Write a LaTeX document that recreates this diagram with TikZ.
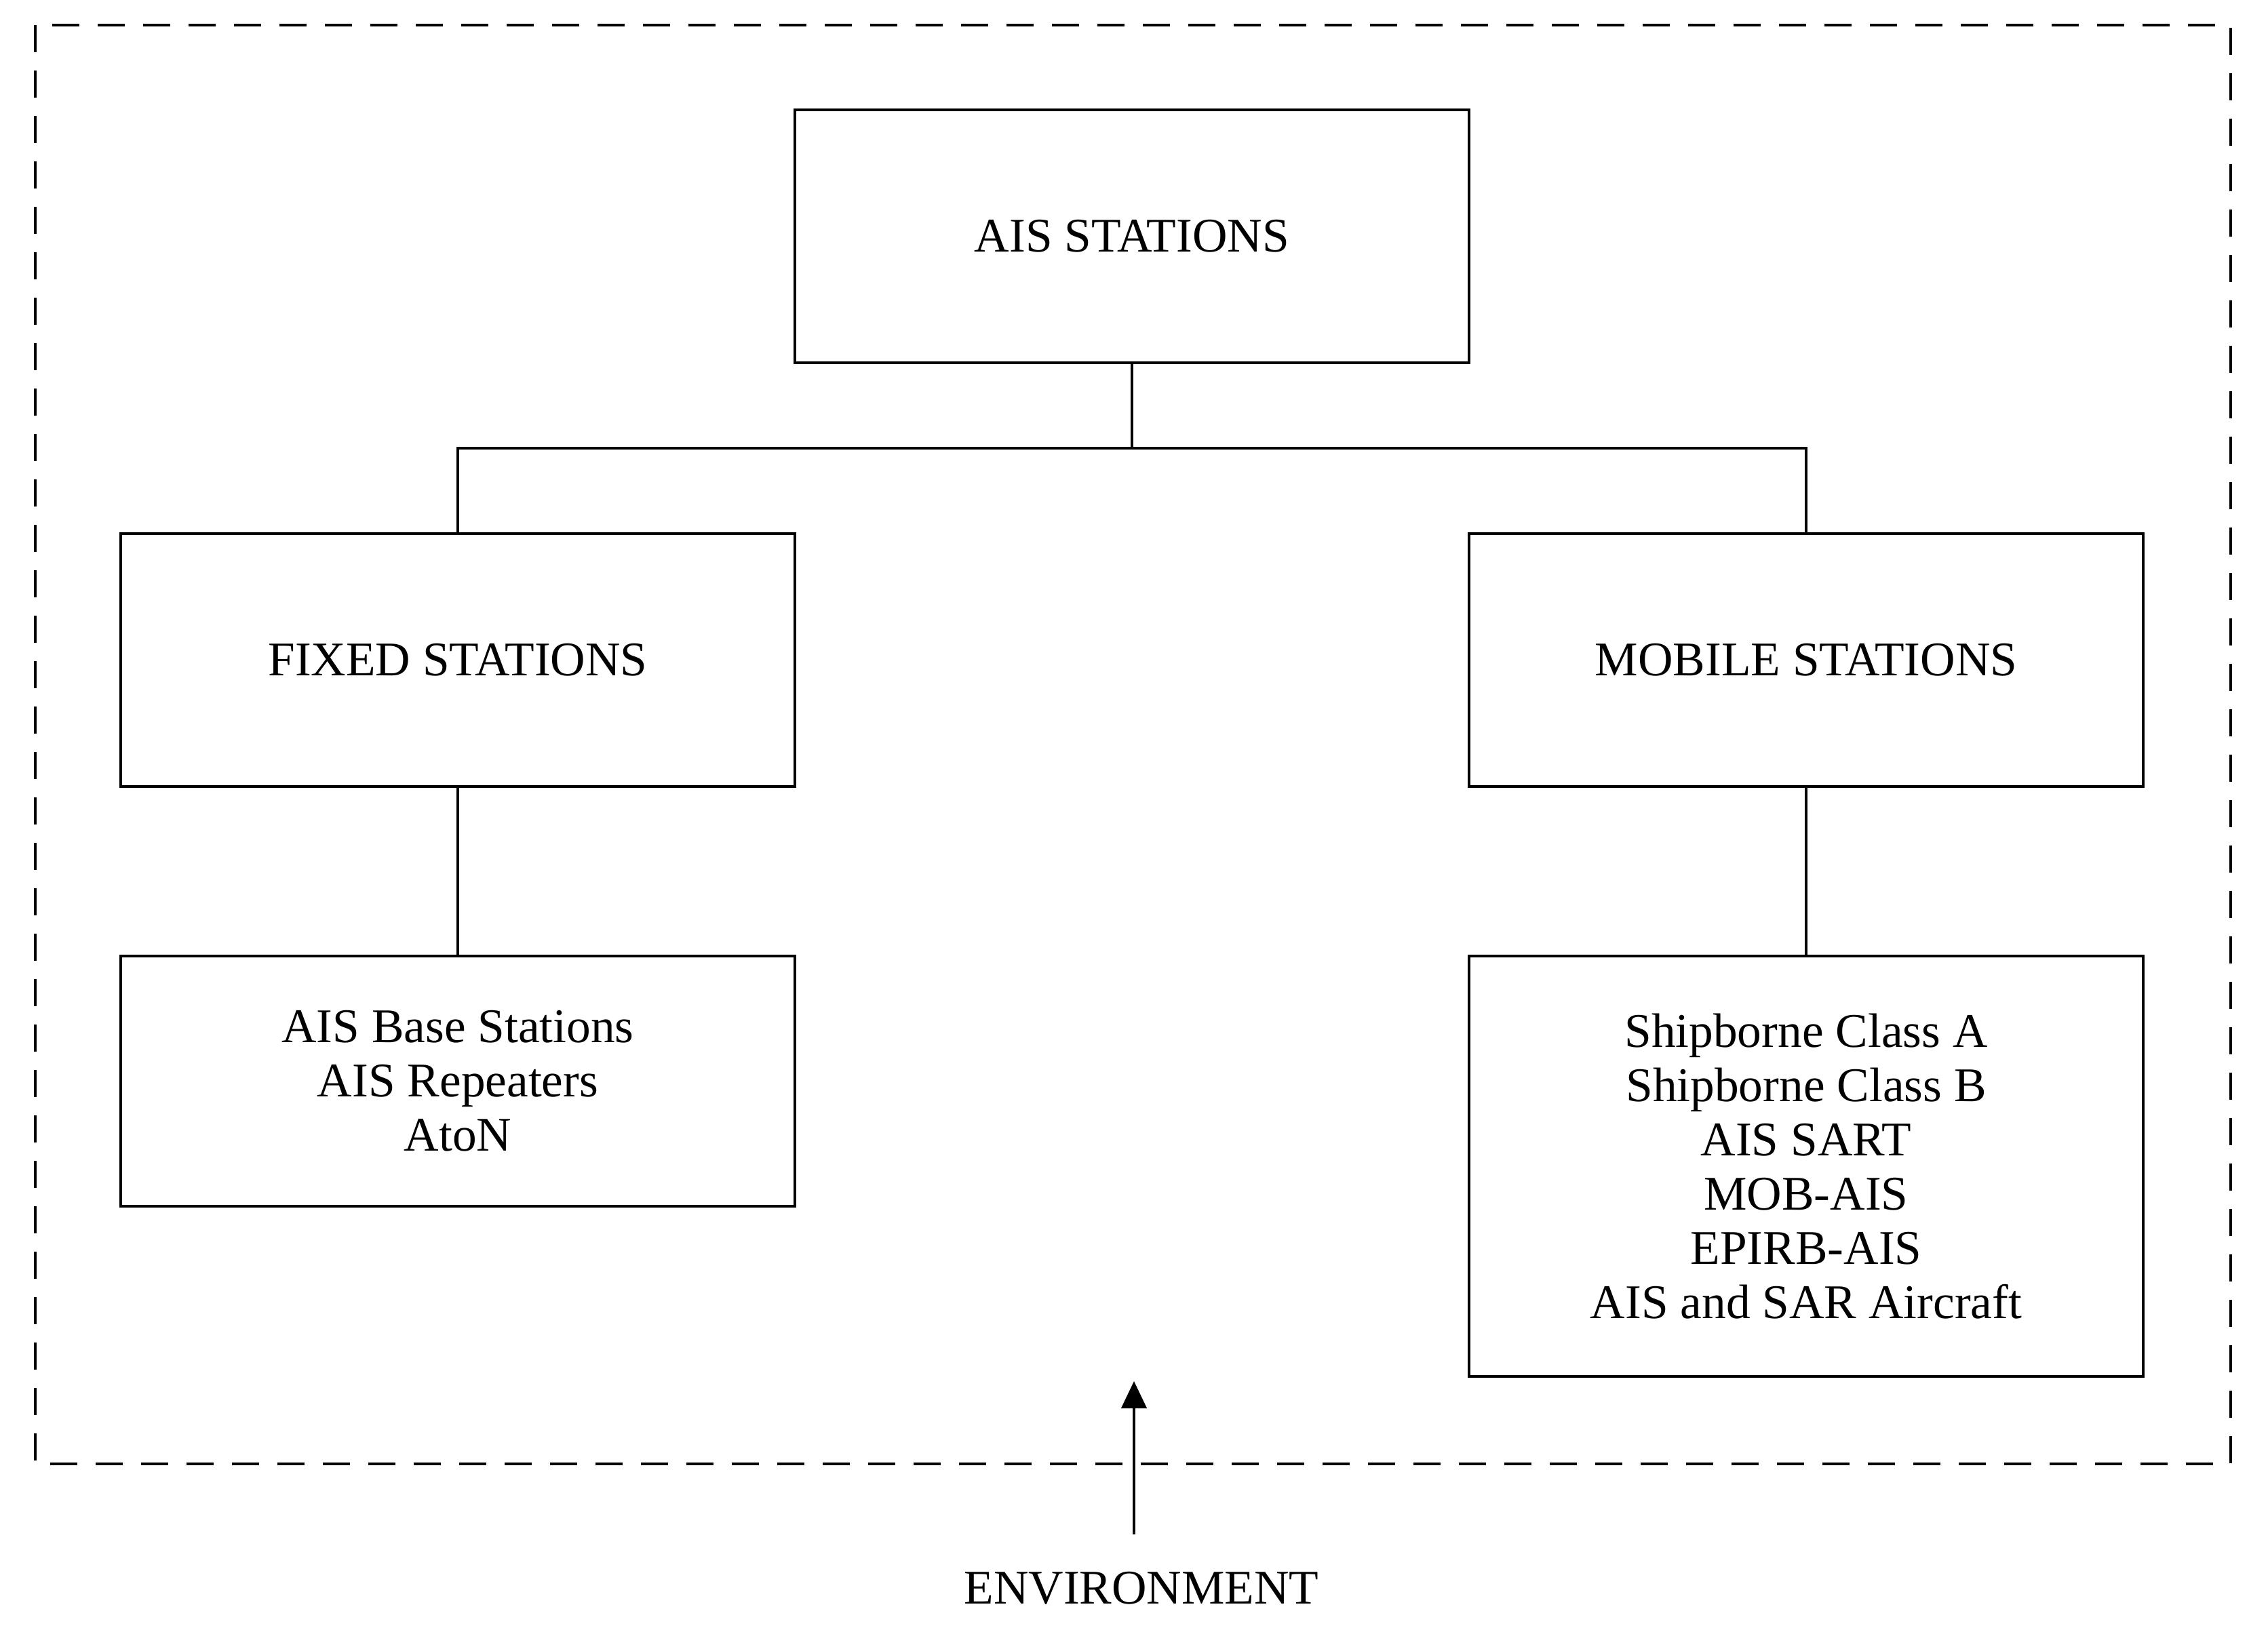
\documentclass[tikz,border=0pt]{standalone}
\usepackage{fontspec}
\setmainfont{Liberation Serif}
\usetikzlibrary{arrows.meta,positioning}
\tikzset{
  sbox/.style={draw,line width=1.4pt,minimum width=9.94cm,minimum height=3.73cm,outer sep=0pt,
               align=center,inner sep=0pt,font=\fontsize{20.3}{22.8}\selectfont},
  link/.style={line width=1.4pt},
  envarrow/.style={-{Triangle[length=4mm,width=3.7mm]},line width=1.3pt},
  frame/.style={dash pattern=on 4mm off 2.7mm,line width=1.4pt}
}

\begin{document}
\begin{tikzpicture}[node distance=2.52cm]
  \useasboundingbox (0,0) rectangle (33.44,-24.04);
  \draw[frame] (0.52,-0.37) rectangle (32.89,-21.59);
  \node[sbox] (ais) at (16.69,-3.485) {AIS STATIONS};
  \node[sbox,below left=2.52cm and 0cm of ais] (fixed) {FIXED STATIONS};
  \node[sbox,below right=2.52cm and 0cm of ais] (mobile) {MOBILE STATIONS};
  \node[sbox,below=2.5cm of fixed,minimum height=3.69cm] (fixlist) {AIS Base Stations\\AIS Repeaters\\AtoN};
  \node[sbox,below=2.5cm of mobile,minimum height=6.2cm] (moblist) {Shipborne Class A\\Shipborne Class B\\AIS SART\\MOB-AIS\\EPIRB-AIS\\AIS and SAR Aircraft};
  \node[font=\fontsize{20.3}{22.8}\selectfont] (env) at (16.83,-23.42) {ENVIRONMENT};
  \coordinate (tip) at (16.72,-20.37);
  \draw[link] (ais.south) -- ++(0,-1.26) coordinate (bar);
  \draw[link] (bar) -| (fixed.north);
  \draw[link] (bar) -| (mobile.north);
  \draw[link] (fixed) -- (fixlist);
  \draw[link] (mobile) -- (moblist);
  \draw[envarrow,shorten <=4.2mm] (env.north -| tip) -- (tip);
\end{tikzpicture}
\end{document}
